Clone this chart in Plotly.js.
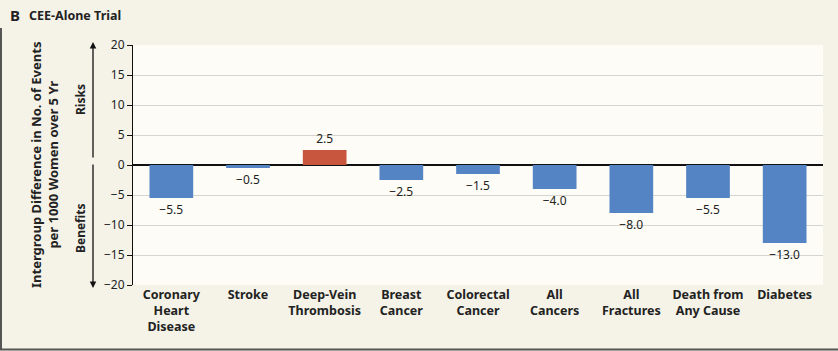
<!DOCTYPE html>
<html>
<head>
<meta charset="utf-8">
<script src="https://cdn.plot.ly/plotly-3.0.1.min.js"></script>
<style>
html,body{margin:0;padding:0;background:#f5f3e8;}
#chart{width:838px;height:351px;}
</style>
</head>
<body>
<div id="chart"></div>
<script>
const categories = ["Coronary<br>Heart<br>Disease", "Stroke", "Deep-Vein<br>Thrombosis", "Breast<br>Cancer", "Colorectal<br>Cancer", "All<br>Cancers", "All<br>Fractures", "Death from<br>Any Cause", "Diabetes"];
const values = [-5.5, -0.5, 2.5, -2.5, -1.5, -4.0, -8.0, -5.5, -13.0];
const valueLabels = ["\u22125.5", "\u22120.5", "2.5", "\u22122.5", "\u22121.5", "\u22124.0", "\u22128.0", "\u22125.5", "\u221213.0"];
const tickVals = [20, 15, 10, 5, 0, -5, -10, -15, -20];
const tickText = ["20", "15", "10", "5", "0", "\u22125", "\u221210", "\u221215", "\u221220"];

const FONT = "Noto Sans, Open Sans, sans-serif";
const colors = values.map(v => v > 0 ? "#c8553d" : "#5584c4");

const trace = {
  type: "bar",
  x: categories,
  y: values,
  text: valueLabels,
  textposition: "outside",
  textfont: {family: FONT, size: 12, color: "#222"},
  cliponaxis: false,
  marker: {color: colors, line: {width: 0}},
  hoverinfo: "none"
};

const PW = 690, PH = 240;
const px = v => (v - 133) / PW;      // pixel x -> paper
const py = v => (285 - v) / PH;      // pixel y -> paper

const layout = {
  width: 838, height: 351,
  margin: {l: 133, r: 15, t: 45, b: 66},
  paper_bgcolor: "#f5f3e8",
  plot_bgcolor: "#fdfcf6",
  bargap: 0.43,
  showlegend: false,
  font: {family: FONT, color: "#222"},
  xaxis: {
    showgrid: false, zeroline: false, showline: false,
    ticks: "", tickfont: {family: FONT, size: 12.5, color: "#222", weight: "bold"},
    fixedrange: true, automargin: false
  },
  yaxis: {
    range: [-20, 20], tickvals: tickVals, ticktext: tickText,
    showgrid: true, gridcolor: "#d4d4d0", gridwidth: 1,
    zeroline: true, zerolinecolor: "#111", zerolinewidth: 1.2,
    showline: true, linecolor: "#111", linewidth: 1,
    ticks: "outside", ticklen: 5, tickcolor: "#111",
    tickfont: {family: FONT, size: 12, color: "#222"},
    fixedrange: true, automargin: false
  },
  annotations: [
    {xref: "paper", yref: "paper", x: px(8), y: py(15), xanchor: "left", yanchor: "middle",
     text: "<b>B</b>", showarrow: false, font: {family: FONT, size: 15, color: "#222"}},
    {xref: "paper", yref: "paper", x: px(27), y: py(15), xanchor: "left", yanchor: "middle",
     text: "<b>CEE-Alone Trial</b>", showarrow: false, font: {family: FONT, size: 12.5, color: "#222"}},
    {xref: "paper", yref: "paper", x: px(44), y: py(165), xanchor: "center", yanchor: "middle",
     text: "<b>Intergroup Difference in No. of Events<br>per 1000 Women over 5 Yr</b>", textangle: -90, showarrow: false,
     font: {family: FONT, size: 13, color: "#222"}},
    {xref: "paper", yref: "paper", x: px(80), y: py(100), xanchor: "center", yanchor: "middle",
     text: "<b>Risks</b>", textangle: -90, showarrow: false, font: {family: FONT, size: 12, color: "#222"}},
    {xref: "paper", yref: "paper", x: px(80), y: py(228), xanchor: "center", yanchor: "middle",
     text: "<b>Benefits</b>", textangle: -90, showarrow: false, font: {family: FONT, size: 12, color: "#222"}},
    {xref: "paper", yref: "paper", axref: "paper", ayref: "paper",
     x: px(93), y: py(42), ax: px(93), ay: py(159),
     showarrow: true, arrowhead: 2, arrowsize: 1, arrowwidth: 1.3, arrowcolor: "#111", text: ""},
    {xref: "paper", yref: "paper", axref: "paper", ayref: "paper",
     x: px(93), y: py(288), ax: px(93), ay: py(163),
     showarrow: true, arrowhead: 2, arrowsize: 1, arrowwidth: 1.3, arrowcolor: "#111", text: ""}
  ],
  shapes: [
    {type: "line", xref: "paper", yref: "paper", x0: px(1), x1: px(1), y0: py(28), y1: py(350),
     line: {color: "#555", width: 2}},
    {type: "line", xref: "paper", yref: "paper", x0: px(0), x1: px(838), y0: py(349.5), y1: py(349.5),
     line: {color: "#555", width: 2}}
  ]
};

Plotly.newPlot("chart", [trace], layout, {displayModeBar: false, staticPlot: true});
</script>
</body>
</html>
